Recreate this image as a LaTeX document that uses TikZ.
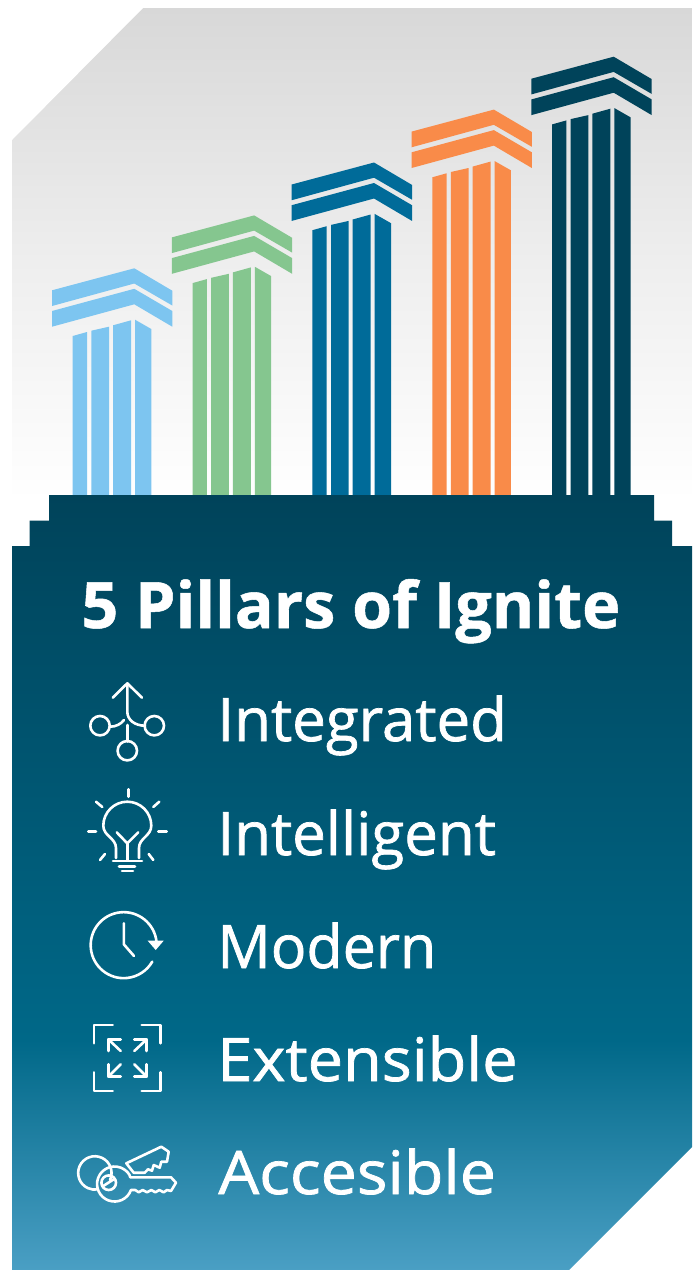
\documentclass[tikz,border=0pt]{standalone}
\usepackage{fontspec}
\setmainfont{Open Sans}
\newfontfamily\labfont[FakeBold=1.2]{Open Sans}
\newfontfamily\ttlfont[FakeBold=0.8]{Open Sans Bold}
\definecolor{cA}{HTML}{7DC5F0}
\definecolor{cB}{HTML}{85C68F}
\definecolor{cC}{HTML}{006B99}
\definecolor{cD}{HTML}{F98B49}
\definecolor{cE}{HTML}{00435A}
\definecolor{gTop}{HTML}{D8D8D8}
\definecolor{bMid}{HTML}{006888}
\definecolor{bBot}{HTML}{4A9FC4}
\pgfdeclareverticalshading{basegrad}{100bp}{color(0bp)=(bBot); color(25bp)=(bBot); color(39.84bp)=(bMid); color(75bp)=(cE); color(100bp)=(cE)}
\tikzset{
  icon/.style={draw=white,line width=1.3pt,line cap=round,line join=round},
  lab/.style={anchor=base west,text=white,inner sep=0pt,font=\fontsize{30}{30}\selectfont\labfont},
  ttl/.style={anchor=base west,text=white,inner sep=0pt,font=\fontsize{32}{32}\selectfont\ttlfont}
}
\newcommand{\pillar}[3]{%
\begin{scope}[shift={(#1,#2)},fill=#3]
 \fill (52,290.3)--(134.3,268.3)--(172.3,290.7)--(172.3,305.5)--(134.3,283.5)--(52,306)--cycle;
 \fill (52,311)--(134.3,288.8)--(172.3,311)--(172.3,326.7)--(134.3,304.3)--(52,326.7)--cycle;
 \pgfmathsetmacro{\bt}{496-#2}
 \fill (72.7,336)--(87,332)--(87,\bt)--(72.7,\bt)--cycle;
 \fill (91.3,330.7)--(109,326.7)--(109,\bt)--(91.3,\bt)--cycle;
 \fill (113,325.3)--(131,320.3)--(131,\bt)--(113,\bt)--cycle;
 \fill (135,319.7)--(151.3,329)--(151.3,\bt)--(135,\bt)--cycle;
\end{scope}}
\begin{document}
\begin{tikzpicture}[x=0.5pt,y=-0.5pt]
\useasboundingbox (0,0) rectangle (697,1270);
% upper panel
\shade[top color=gTop,bottom color=white,middle color=gTop!45!white] (-10,8) rectangle (707,500);
\fill[white] (-1,-1) rectangle (12,510);
\fill[white] (692,-1) rectangle (698,510);
\fill[white] (11,7)--(143,7)--(143,8)--(12,140)--(11,140)--cycle;
% pillars
\pillar{0}{0}{cA}
\pillar{119.85}{-52.9}{cB}
\pillar{239.7}{-105.8}{cC}
\pillar{359.55}{-158.7}{cD}
\pillar{479.4}{-211.6}{cE}
% steps masking the panel end
\fill[white] (11,494) rectangle (49,547);
\fill[white] (654,494) rectangle (693,547);
% base
\shade[shading=basegrad] (49,495)--(654,495)--(654,520.5)--(672,520.5)--(672,546)--(692,546)--(692,1147)--(569,1270)--(12,1270)--(12,546)--(29.5,546)--(29.5,520.5)--(49,520.5)--cycle;
% texts
\node[ttl] (title) at (81,628) {\scalebox{1.01}[1]{5 Pillars of Ignite}};
\node[lab] (t1) at (217,741) {Integrated};
\node[lab] (t2) at (217,855) {Intelligent};
\node[lab] (t3) at (217,968) {\scalebox{0.985}[1]{Modern}};
\node[lab] (t4) at (217,1081) {\scalebox{1.05}[1]{Extensible}};
\node[lab] (t5) at (218,1194) {\scalebox{1.075}[1]{Accesible}};
% icon 1
\draw[icon] (112.7,697.7)--(127.3,683.3)--(142,697.7);
\draw[icon] (127.3,683.3)--(127.3,711.7) .. controls (127.3,720) and (135,725.7) .. (145,725.7);
\draw[icon] (110,726.7) .. controls (116,726.7) and (121,724) .. (124,720);
\draw[icon] (127.3,725)--(127.3,741.5);
\draw[icon] (100,725.7) circle[radius=9.7];
\draw[icon] (154.3,725.7) circle[radius=9.7];
\draw[icon] (127.3,750.7) circle[radius=9.7];
% icon 2
\draw[icon] (116,858) -- (116,848) .. controls (116,838) and (103.3,836) .. (103.3,825.7)
  arc[start angle=180,end angle=0,radius=24,y radius=-24]
  .. controls (151.3,836) and (139,838) .. (139,848) -- (139,858);
\draw[icon] (113,861)--(142,861);
\draw[icon] (119,866.5)--(135,866.5);
\draw[icon] (122,871)--(133,871);
\draw[icon] (116.7,832.3)--(127.3,843.3)--(138.3,832.3);
\draw[icon] (127.3,843.3)--(127.3,860);
\draw[icon] (128.3,789.3)--(128.3,796.7);
\draw[icon] (96,801.7)--(102.3,807);
\draw[icon] (159.3,801.7)--(153.3,807);
\draw[icon] (88.3,831.3)--(96,831.3);
\draw[icon] (158.3,831.3)--(166.7,831.3);
\draw[icon] (100,860)--(105,854);
\draw[icon] (153.3,860)--(148.7,854);
% icon 3
\draw[icon] (156.5,941.7) arc[start angle=-6,end angle=-330,radius=33];
\fill[white] (147.7,940.7)--(163.7,940.7)--(155.7,950)--cycle;
\draw[icon] (123.8,923.3)--(123.8,944.3)--(134,956);
% icon 4
\draw[icon] (112.7,1025)--(94,1025)--(94,1043.3);
\draw[icon] (141.7,1025)--(160.7,1025)--(160.7,1043.3);
\draw[icon] (94,1072.3)--(94,1091)--(112.7,1091);
\draw[icon] (141.7,1091)--(160.7,1091)--(160.7,1072.3);
\draw[icon] (120.7,1039.3)--(108.3,1039.3)--(108.3,1051);
\draw[icon] (108.3,1039.3)--(120.7,1051);
\draw[icon] (134.3,1039.3)--(146.7,1039.3)--(146.7,1051);
\draw[icon] (146.7,1039.3)--(134.3,1051);
\draw[icon] (108.3,1064.3)--(108.3,1076.7)--(120.7,1076.7);
\draw[icon] (108.3,1076.7)--(120.7,1064.3);
\draw[icon] (146.7,1064.3)--(146.7,1076.7)--(134.3,1076.7);
\draw[icon] (146.7,1076.7)--(134.3,1064.3);
% icon 5
\draw[icon] (110,1180) arc[start angle=25,end angle=-280,radius=16.7];
\draw[icon] (131,1190) arc[start angle=20,end angle=328,radius=17.5]
  --(130.3,1177.3)--(171,1177.3)--(176,1182.7)--(171,1191)--(167,1190)--(163.7,1192.3)--(159.3,1190)--(155.3,1192.3)--(151.3,1190)--(147,1192.3)--(142.7,1190)--(138.7,1192.3)--(135.3,1190)--cycle;
\draw[icon] (108.7,1182.7) circle[radius=7.3];
\draw[icon] (103.7,1185.7)--(113.7,1179.3);
\draw[icon] (126.3,1163.3)--(161.3,1146.7)--(168.7,1151.7)--(167,1161.7)--(161.3,1161.7)--(159.7,1167.7)--(153.7,1165)--(152,1170.7)--(148,1169.3)--(144.7,1172.7)--(133.7,1172.7)--cycle;
\end{tikzpicture}
\end{document}
